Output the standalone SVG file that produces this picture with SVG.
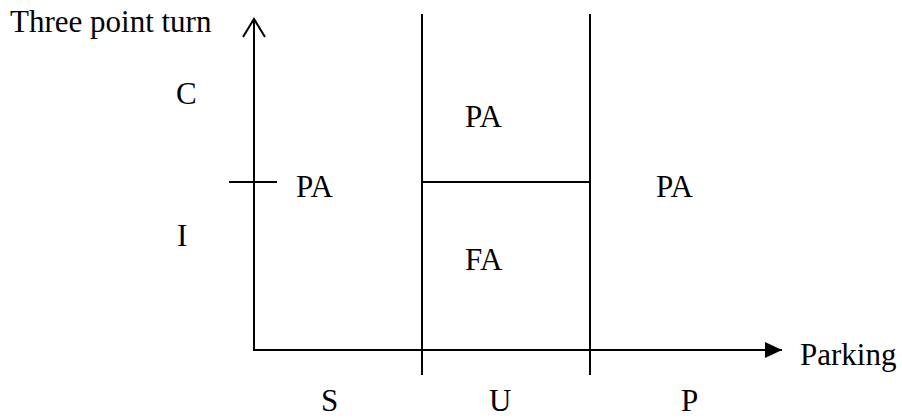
<svg xmlns="http://www.w3.org/2000/svg" width="902" height="419" viewBox="0 0 902 419">
<style>
.ln{stroke:#000;stroke-width:2;fill:none}
.t{font-family:"Liberation Serif","Times New Roman",serif;font-size:31px;fill:#000}
</style>
<defs>
<marker id="fa" markerWidth="18" markerHeight="16" refX="17" refY="8" orient="auto" markerUnits="userSpaceOnUse">
<path d="M0,0 L17,8 L0,16 Z" fill="#000"/>
</marker>
</defs>
<rect width="902" height="419" fill="#fff"/>
<g id="connectors">
<line class="ln" x1="254" y1="351" x2="254" y2="20"/>
<polyline class="ln" points="243,37 254,19 265,37"/>
<line class="ln" x1="253" y1="350" x2="782" y2="350" marker-end="url(#fa)"/>
<line class="ln" x1="422" y1="14" x2="422" y2="375"/>
<line class="ln" x1="590" y1="14" x2="590" y2="375"/>
<line class="ln" x1="422" y1="182" x2="590" y2="182"/>
<line class="ln" x1="229" y1="182" x2="277" y2="182"/>
</g>
<g id="axis-y-label"><text class="t" x="10" y="32">Three point turn</text></g>
<g id="axis-x-label"><text class="t" x="800" y="365">Parking</text></g>
<g id="label-C"><text class="t" x="176" y="104">C</text></g>
<g id="label-I"><text class="t" x="177" y="246">I</text></g>
<g id="region-left"><text class="t" x="296" y="197">PA</text></g>
<g id="region-mid-top"><text class="t" x="465" y="127">PA</text></g>
<g id="region-mid-bottom"><text class="t" x="465" y="270">FA</text></g>
<g id="region-right"><text class="t" x="656" y="197">PA</text></g>
<g id="label-S"><text class="t" x="321" y="411">S</text></g>
<g id="label-U"><text class="t" x="489" y="411">U</text></g>
<g id="label-P"><text class="t" x="681" y="411">P</text></g>
</svg>
